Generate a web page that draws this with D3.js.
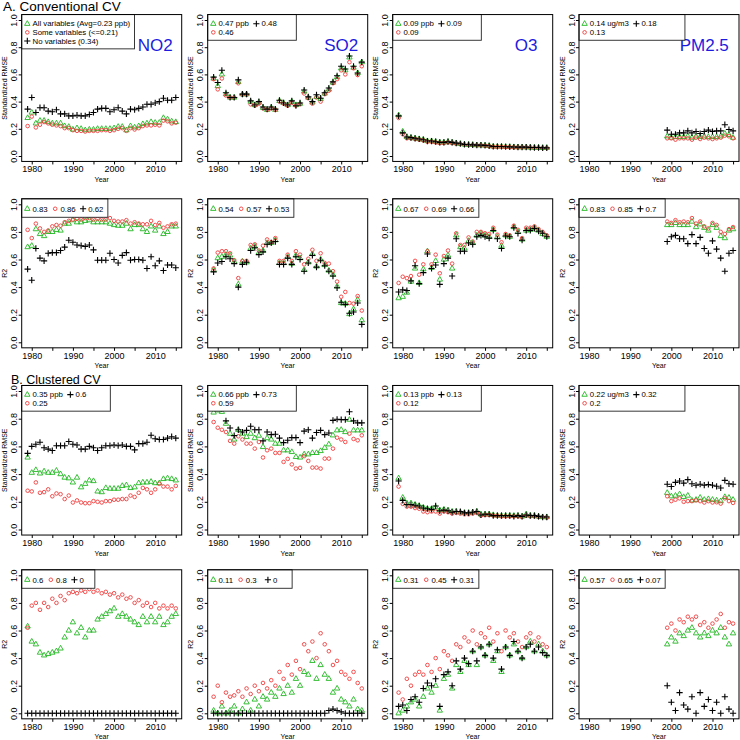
<!DOCTYPE html>
<html><head><meta charset="utf-8">
<script src="https://cdn.jsdelivr.net/npm/d3@7"></script>
<style>body{margin:0;background:#fff} text{font-family:"Liberation Sans",Arial,Helvetica,sans-serif}</style>
</head><body><svg id="c" width="740" height="740"></svg>
<script>
// ---------- categories ----------
const years = [1979,1980,1981,1982,1983,1984,1985,1986,1987,1988,1989,1990,1991,1992,1993,1994,1995,1996,1997,1998,1999,2000,2001,2002,2003,2004,2005,2006,2007,2008,2009,2010,2011,2012,2013,2014,2015];
const yearsPM = [1999,2000,2001,2002,2003,2004,2005,2006,2007,2008,2009,2010,2011,2012,2013,2014,2015];
const xTicks = [1980,1985,1990,1995,2000,2005,2010,2015];
const xTickLabels = {1980:"1980",1990:"1990",2000:"2000",2010:"2010"};
const yTicks = [0,0.2,0.4,0.6,0.8,1.0];
const pollutants = ["NO2","SO2","O3","PM2.5"];
const sectionTitles = ["A. Conventional CV","B. Clustered CV"];

// ---------- A. Conventional CV : standardized RMSE ----------
const no2ConvRmseAll  = [0.28,0.32,0.24,0.26,0.26,0.25,0.24,0.24,0.24,0.22,0.215,0.195,0.205,0.20,0.19,0.195,0.195,0.20,0.20,0.20,0.20,0.205,0.215,0.215,0.19,0.22,0.21,0.22,0.235,0.24,0.25,0.245,0.245,0.28,0.27,0.255,0.25];
const no2ConvRmseSome = [0.22,0.29,0.21,0.23,0.25,0.24,0.23,0.225,0.22,0.205,0.205,0.19,0.185,0.185,0.18,0.185,0.185,0.185,0.19,0.19,0.185,0.19,0.20,0.205,0.185,0.205,0.195,0.205,0.22,0.225,0.225,0.23,0.225,0.26,0.255,0.24,0.245];
const no2ConvRmseNone = [0.345,0.43,0.32,0.355,0.355,0.33,0.325,0.34,0.31,0.31,0.295,0.295,0.30,0.295,0.295,0.305,0.32,0.345,0.35,0.35,0.325,0.34,0.355,0.33,0.31,0.345,0.34,0.35,0.36,0.38,0.38,0.39,0.40,0.425,0.41,0.41,0.43];

const so2ConvRmseAll  = [0.57,0.515,0.60,0.455,0.43,0.43,0.545,0.455,0.455,0.40,0.375,0.395,0.355,0.34,0.355,0.34,0.405,0.39,0.375,0.40,0.375,0.385,0.475,0.43,0.395,0.435,0.42,0.46,0.49,0.54,0.58,0.645,0.63,0.725,0.65,0.61,0.69];
const so2ConvRmseSome = [0.565,0.49,0.57,0.445,0.43,0.43,0.535,0.45,0.45,0.38,0.37,0.385,0.35,0.34,0.35,0.34,0.40,0.385,0.37,0.39,0.37,0.38,0.46,0.425,0.385,0.43,0.40,0.455,0.48,0.535,0.565,0.63,0.60,0.69,0.645,0.595,0.66];
const so2ConvRmseNone = [0.58,0.54,0.63,0.465,0.43,0.43,0.56,0.455,0.455,0.405,0.375,0.40,0.36,0.345,0.36,0.345,0.41,0.39,0.375,0.405,0.37,0.39,0.485,0.435,0.40,0.45,0.425,0.465,0.50,0.545,0.59,0.66,0.64,0.735,0.66,0.61,0.69];

const o3ConvRmseAll  = [0.30,0.18,0.14,0.135,0.13,0.125,0.12,0.11,0.11,0.105,0.10,0.10,0.105,0.10,0.095,0.09,0.085,0.083,0.082,0.08,0.08,0.078,0.075,0.07,0.07,0.07,0.068,0.067,0.066,0.065,0.065,0.065,0.063,0.062,0.062,0.06,0.06];
const o3ConvRmseSome = [0.28,0.16,0.13,0.13,0.125,0.12,0.115,0.105,0.105,0.10,0.095,0.095,0.10,0.095,0.09,0.088,0.083,0.08,0.08,0.078,0.078,0.075,0.072,0.068,0.068,0.068,0.066,0.065,0.064,0.063,0.063,0.063,0.062,0.06,0.06,0.058,0.058];
const o3ConvRmseNone = [0.295,0.17,0.14,0.135,0.13,0.125,0.12,0.11,0.11,0.105,0.10,0.10,0.105,0.10,0.095,0.09,0.085,0.083,0.082,0.08,0.08,0.078,0.075,0.07,0.07,0.07,0.068,0.067,0.066,0.065,0.065,0.065,0.063,0.062,0.062,0.06,0.06];

const pmConvRmseAll  = [0.145,0.135,0.14,0.14,0.14,0.145,0.135,0.145,0.14,0.145,0.14,0.14,0.14,0.145,0.165,0.155,0.135];
const pmConvRmseSome = [0.13,0.13,0.12,0.13,0.13,0.13,0.12,0.135,0.125,0.135,0.13,0.125,0.13,0.135,0.15,0.145,0.13];
const pmConvRmseNone = [0.19,0.16,0.16,0.17,0.17,0.185,0.17,0.18,0.165,0.18,0.19,0.18,0.185,0.185,0.23,0.195,0.185];

// ---------- A. Conventional CV : R2 ----------
const no2ConvR2All  = [0.69,0.70,0.82,0.785,0.77,0.80,0.80,0.815,0.81,0.86,0.86,0.885,0.87,0.87,0.88,0.885,0.87,0.87,0.87,0.87,0.86,0.85,0.845,0.845,0.86,0.82,0.85,0.85,0.82,0.80,0.84,0.81,0.84,0.785,0.80,0.84,0.84];
const no2ConvR2Some = [0.815,0.755,0.86,0.825,0.80,0.81,0.84,0.85,0.845,0.87,0.88,0.89,0.895,0.89,0.90,0.90,0.89,0.895,0.89,0.89,0.90,0.88,0.875,0.875,0.885,0.86,0.87,0.86,0.855,0.855,0.88,0.85,0.865,0.83,0.84,0.855,0.86];
const no2ConvR2None = [0.53,0.45,0.68,0.61,0.59,0.645,0.65,0.65,0.665,0.69,0.74,0.725,0.705,0.70,0.695,0.705,0.67,0.595,0.595,0.595,0.645,0.60,0.575,0.63,0.65,0.595,0.60,0.60,0.595,0.535,0.62,0.555,0.59,0.52,0.56,0.56,0.54];

const so2ConvR2All  = [0.525,0.61,0.62,0.635,0.63,0.585,0.42,0.585,0.58,0.68,0.695,0.65,0.665,0.72,0.72,0.74,0.575,0.575,0.62,0.57,0.63,0.61,0.525,0.58,0.64,0.55,0.60,0.56,0.52,0.49,0.405,0.285,0.28,0.205,0.24,0.31,0.16];
const so2ConvR2Some = [0.535,0.65,0.66,0.66,0.645,0.595,0.465,0.59,0.59,0.705,0.71,0.665,0.70,0.745,0.725,0.755,0.59,0.59,0.635,0.59,0.66,0.635,0.565,0.605,0.67,0.59,0.645,0.575,0.57,0.515,0.44,0.33,0.365,0.285,0.28,0.335,0.23];
const so2ConvR2None = [0.51,0.575,0.585,0.62,0.605,0.57,0.40,0.565,0.58,0.665,0.685,0.635,0.655,0.71,0.72,0.73,0.565,0.565,0.61,0.565,0.62,0.60,0.515,0.575,0.63,0.545,0.595,0.555,0.515,0.48,0.395,0.29,0.275,0.21,0.22,0.285,0.13];

const o3ConvR2All  = [0.32,0.33,0.36,0.44,0.535,0.43,0.53,0.66,0.54,0.59,0.455,0.60,0.63,0.535,0.775,0.69,0.68,0.735,0.72,0.775,0.79,0.775,0.765,0.815,0.765,0.70,0.775,0.765,0.835,0.80,0.745,0.81,0.815,0.83,0.81,0.785,0.765];
const o3ConvR2Some = [0.43,0.475,0.465,0.48,0.59,0.49,0.565,0.66,0.565,0.635,0.50,0.625,0.665,0.57,0.79,0.705,0.705,0.76,0.73,0.80,0.80,0.79,0.785,0.83,0.78,0.725,0.785,0.775,0.845,0.815,0.755,0.83,0.83,0.84,0.82,0.80,0.775];
const o3ConvR2None = [0.365,0.38,0.375,0.445,0.555,0.425,0.505,0.64,0.535,0.56,0.42,0.57,0.61,0.48,0.75,0.66,0.66,0.72,0.71,0.765,0.775,0.765,0.755,0.81,0.75,0.68,0.77,0.765,0.83,0.79,0.74,0.81,0.81,0.825,0.805,0.79,0.765];

const pmConvR2All  = [0.85,0.85,0.865,0.85,0.85,0.85,0.875,0.835,0.855,0.83,0.81,0.85,0.83,0.77,0.755,0.81,0.82];
const pmConvR2Some = [0.875,0.865,0.885,0.87,0.875,0.87,0.90,0.86,0.875,0.84,0.825,0.865,0.85,0.80,0.785,0.82,0.835];
const pmConvR2None = [0.73,0.765,0.775,0.75,0.75,0.715,0.78,0.715,0.76,0.68,0.645,0.735,0.675,0.61,0.515,0.645,0.665];

// ---------- B. Clustered CV : standardized RMSE ----------
const no2ClusRmseAll  = [0.52,0.41,0.43,0.405,0.42,0.41,0.41,0.425,0.40,0.375,0.37,0.34,0.375,0.305,0.33,0.355,0.35,0.275,0.27,0.30,0.295,0.295,0.295,0.315,0.32,0.30,0.305,0.335,0.34,0.34,0.345,0.335,0.335,0.365,0.37,0.365,0.355];
const no2ClusRmseSome = [0.28,0.275,0.34,0.265,0.27,0.29,0.24,0.26,0.255,0.22,0.245,0.195,0.21,0.195,0.19,0.19,0.205,0.20,0.195,0.205,0.205,0.215,0.215,0.22,0.22,0.245,0.235,0.265,0.30,0.29,0.265,0.29,0.33,0.31,0.31,0.29,0.315];
const no2ClusRmseNone = [0.55,0.60,0.615,0.63,0.59,0.58,0.57,0.605,0.605,0.605,0.635,0.615,0.61,0.58,0.58,0.60,0.59,0.57,0.59,0.605,0.605,0.61,0.605,0.61,0.60,0.60,0.575,0.62,0.62,0.63,0.68,0.655,0.65,0.65,0.66,0.67,0.66];

const so2ClusRmseAll  = [0.845,0.86,0.85,0.764,0.692,0.65,0.72,0.692,0.668,0.692,0.66,0.678,0.596,0.66,0.65,0.62,0.62,0.572,0.572,0.56,0.524,0.52,0.543,0.543,0.553,0.553,0.567,0.59,0.615,0.68,0.716,0.72,0.704,0.793,0.716,0.716,0.716];
const so2ClusRmseSome = [0.776,0.735,0.72,0.704,0.64,0.62,0.673,0.65,0.62,0.62,0.584,0.632,0.52,0.572,0.584,0.553,0.553,0.488,0.51,0.47,0.44,0.445,0.53,0.495,0.447,0.447,0.44,0.512,0.512,0.584,0.663,0.65,0.632,0.692,0.654,0.644,0.68];
const so2ClusRmseNone = [0.88,0.90,0.87,0.784,0.733,0.678,0.72,0.704,0.716,0.745,0.72,0.72,0.64,0.704,0.685,0.688,0.66,0.627,0.644,0.663,0.663,0.627,0.71,0.72,0.66,0.70,0.716,0.685,0.697,0.788,0.796,0.793,0.793,0.85,0.784,0.77,0.77];

const o3ClusRmseAll  = [0.37,0.23,0.19,0.19,0.18,0.17,0.16,0.15,0.15,0.16,0.14,0.145,0.14,0.13,0.13,0.125,0.12,0.12,0.125,0.13,0.11,0.11,0.11,0.105,0.10,0.10,0.10,0.10,0.10,0.10,0.095,0.11,0.10,0.10,0.095,0.09,0.09];
const o3ClusRmseSome = [0.31,0.185,0.165,0.165,0.155,0.15,0.13,0.125,0.13,0.13,0.115,0.13,0.125,0.115,0.12,0.115,0.11,0.11,0.115,0.12,0.10,0.105,0.105,0.10,0.10,0.095,0.095,0.095,0.095,0.095,0.09,0.10,0.095,0.095,0.09,0.09,0.085];
const o3ClusRmseNone = [0.35,0.21,0.18,0.18,0.175,0.17,0.155,0.15,0.145,0.17,0.135,0.14,0.135,0.125,0.13,0.13,0.12,0.12,0.125,0.13,0.105,0.11,0.11,0.10,0.10,0.10,0.10,0.10,0.095,0.10,0.095,0.105,0.10,0.10,0.095,0.09,0.09];

const pmClusRmseAll  = [0.265,0.24,0.245,0.255,0.235,0.245,0.21,0.215,0.23,0.215,0.22,0.215,0.21,0.205,0.235,0.23,0.215];
const pmClusRmseSome = [0.24,0.205,0.215,0.225,0.20,0.205,0.205,0.21,0.205,0.195,0.205,0.195,0.197,0.187,0.225,0.205,0.192];
const pmClusRmseNone = [0.327,0.31,0.34,0.35,0.335,0.36,0.33,0.32,0.327,0.32,0.325,0.32,0.312,0.30,0.355,0.33,0.327];

// ---------- B. Clustered CV : R2 ----------
const no2ClusR2All  = [0.63,0.52,0.50,0.44,0.42,0.43,0.44,0.45,0.47,0.55,0.60,0.66,0.58,0.62,0.55,0.60,0.60,0.68,0.70,0.72,0.74,0.76,0.70,0.72,0.70,0.68,0.66,0.64,0.70,0.66,0.70,0.66,0.70,0.64,0.66,0.70,0.72];
const no2ClusR2Some = [0.62,0.78,0.80,0.75,0.80,0.77,0.83,0.80,0.85,0.82,0.87,0.88,0.87,0.89,0.88,0.90,0.88,0.89,0.87,0.88,0.86,0.87,0.84,0.86,0.83,0.84,0.80,0.82,0.78,0.80,0.77,0.80,0.76,0.78,0.76,0.78,0.76];
const no2ClusR2None = [0,0,0,0,0,0,0,0,0,0,0,0,0,0,0,0,0,0,0,0,0,0,0,0,0,0,0,0,0,0,0,0,0,0,0,0,0];

const so2ClusR2All  = [0.02,0.0,0.05,0.0,0.02,0.05,0.0,0.03,0.08,0.02,0.10,0.05,0.12,0.10,0.15,0.12,0.18,0.14,0.20,0.15,0.25,0.20,0.30,0.28,0.38,0.25,0.35,0.28,0.25,0.15,0.18,0.10,0.08,0.05,0.10,0.03,0.02];
const so2ClusR2Some = [0.12,0.20,0.08,0.15,0.12,0.13,0.16,0.12,0.18,0.14,0.20,0.16,0.22,0.18,0.24,0.20,0.30,0.25,0.35,0.28,0.38,0.32,0.50,0.45,0.52,0.40,0.58,0.50,0.45,0.35,0.38,0.30,0.28,0.25,0.30,0.22,0.18];
const so2ClusR2None = [0,0,0,0,0,0,0,0,0,0,0,0,0,0,0,0,0,0,0,0,0,0,0,0,0,0,0,0,0.02,0.03,0.02,0.01,0,0,0,0,0];

const o3ClusR2All  = [0.0,0.02,0.05,0.08,0.10,0.05,0.12,0.18,0.15,0.20,0.02,0.25,0.28,0.18,0.35,0.30,0.38,0.35,0.45,0.35,0.48,0.42,0.50,0.38,0.45,0.30,0.48,0.42,0.50,0.45,0.40,0.48,0.52,0.45,0.50,0.45,0.42];
const o3ClusR2Some = [0.15,0.10,0.25,0.20,0.28,0.30,0.28,0.35,0.30,0.40,0.32,0.45,0.42,0.38,0.50,0.48,0.55,0.52,0.60,0.50,0.58,0.55,0.62,0.52,0.58,0.45,0.60,0.55,0.58,0.52,0.48,0.55,0.58,0.52,0.55,0.50,0.48];
const o3ClusR2None = [0.05,0.06,0.02,0.10,0.12,0.08,0.18,0.22,0.20,0.25,0.05,0.28,0.30,0.20,0.38,0.32,0.40,0.36,0.45,0.38,0.48,0.42,0.50,0.40,0.46,0.32,0.48,0.42,0.52,0.45,0.40,0.48,0.50,0.45,0.48,0.44,0.42];

const pmClusR2All  = [0.50,0.55,0.52,0.58,0.56,0.60,0.62,0.58,0.55,0.58,0.56,0.60,0.58,0.62,0.55,0.50,0.58];
const pmClusR2Some = [0.62,0.65,0.60,0.68,0.66,0.70,0.68,0.70,0.64,0.66,0.62,0.65,0.68,0.72,0.62,0.66,0.65];
const pmClusR2None = [0.20,0.08,0.02,0.15,0.06,0.03,0.12,0.0,0.15,0.05,0.10,0.02,0.08,0.0,0.12,0.03,0.0];

// ---------- legend texts (all / some / none) ----------
const legendTexts = [
  [["All variables (Avg=0.23 ppb)","Some variables (<=0.21)","No variables (0.34)"],["0.47 ppb","0.46","0.48"],["0.09 ppb","0.09","0.09"],["0.14 ug/m3","0.13","0.18"]],
  [["0.83","0.86","0.62"],["0.54","0.57","0.53"],["0.67","0.69","0.66"],["0.83","0.85","0.7"]],
  [["0.35 ppb","0.25","0.6"],["0.66 ppb","0.59","0.73"],["0.13 ppb","0.12","0.13"],["0.22 ug/m3","0.2","0.32"]],
  [["0.6","0.8","0"],["0.11","0.3","0"],["0.31","0.45","0.31"],["0.57","0.65","0.07"]]
];

const panelData = [
  [[no2ConvRmseAll,no2ConvRmseSome,no2ConvRmseNone],[so2ConvRmseAll,so2ConvRmseSome,so2ConvRmseNone],[o3ConvRmseAll,o3ConvRmseSome,o3ConvRmseNone],[pmConvRmseAll,pmConvRmseSome,pmConvRmseNone]],
  [[no2ConvR2All,no2ConvR2Some,no2ConvR2None],[so2ConvR2All,so2ConvR2Some,so2ConvR2None],[o3ConvR2All,o3ConvR2Some,o3ConvR2None],[pmConvR2All,pmConvR2Some,pmConvR2None]],
  [[no2ClusRmseAll,no2ClusRmseSome,no2ClusRmseNone],[so2ClusRmseAll,so2ClusRmseSome,so2ClusRmseNone],[o3ClusRmseAll,o3ClusRmseSome,o3ClusRmseNone],[pmClusRmseAll,pmClusRmseSome,pmClusRmseNone]],
  [[no2ClusR2All,no2ClusR2Some,no2ClusR2None],[so2ClusR2All,so2ClusR2Some,so2ClusR2None],[o3ClusR2All,o3ClusR2Some,o3ClusR2None],[pmClusR2All,pmClusR2Some,pmClusR2None]]
];
const yLabels = ["Standardized RMSE","R2","Standardized RMSE","R2"];

// ---------- layout ----------
const svg = d3.select("#c");
const colLeft = [21.7, 207.7, 392.7, 579];
const panelW = 160;
const rowY = [[156,20],[342.3,204.3],[529.5,391],[713.3,575.3]]; // y of 0 and 1
const GREEN = "#22b822", RED = "#f23c3c", BLUE = "#1c1ce0";
const labelYear = [2010,2010,2010,2008];

const tri = "M0,-3.1L2.7,1.6L-2.7,1.6Z";
const plus = "M-3.1,0H3.1M0,-3.1V3.1";

svg.append("text").attr("x",3).attr("y",10.5).attr("font-size",13.5).text(sectionTitles[0]);
svg.append("text").attr("x",11).attr("y",383.5).attr("font-size",12.5).text(sectionTitles[1]);

for (let r=0;r<4;r++){
  for (let c=0;c<4;c++){
    const left = colLeft[c];
    const x = d3.scaleLinear().domain([1977.56,2016.44]).range([left,left+panelW]);
    const y = d3.scaleLinear().domain([0,1]).range(rowY[r]);
    const top = y(1.04), bottom = y(-0.04);
    const g = svg.append("g");
    const yrs = c===3 ? yearsPM : years;
    const [sAll,sSome,sNone] = panelData[r][c];

    // axes
    const xa = g.append("g").attr("transform",`translate(0,${bottom})`)
      .call(d3.axisBottom(x).tickValues(xTicks).tickSize(3).tickPadding(1.5).tickFormat(d=>xTickLabels[d]||""));
    xa.select(".domain").remove();
    xa.selectAll("text").attr("font-size",9).attr("font-family","Liberation Sans, Arial, sans-serif").attr("fill","#000");
    const ya = g.append("g").attr("transform",`translate(${left},0)`)
      .call(d3.axisLeft(y).tickValues(yTicks).tickSize(3).tickFormat(d3.format(".1f")));
    ya.select(".domain").remove();
    ya.selectAll("text").attr("font-size",9).attr("font-family","Liberation Sans, Arial, sans-serif").attr("fill","#000")
      .attr("x",null).attr("dy",null).attr("text-anchor","middle")
      .attr("transform","translate(-4.5,0) rotate(-90)");

    g.append("text").attr("x",(left+left+panelW)/2).attr("y",bottom+20.5).attr("text-anchor","middle")
      .attr("font-size",7).text("Year");
    g.append("text").attr("transform",`translate(${left-14.5},${(top+bottom)/2}) rotate(-90)`)
      .attr("text-anchor","middle").attr("font-size",7).text(yLabels[r]);

    // points: all (triangles), some (circles), none (plus)
    g.append("g").selectAll("path").data(yrs.map((yr,i)=>[yr,sAll[i]])).join("path")
      .attr("d",tri).attr("transform",d=>`translate(${x(d[0])},${y(d[1])})`)
      .attr("fill","none").attr("stroke",GREEN).attr("stroke-width",0.9);
    g.append("g").selectAll("circle").data(yrs.map((yr,i)=>[yr,sSome[i]])).join("circle")
      .attr("cx",d=>x(d[0])).attr("cy",d=>y(d[1])).attr("r",1.8)
      .attr("fill","none").attr("stroke",RED).attr("stroke-width",0.9);
    g.append("g").selectAll("path").data(yrs.map((yr,i)=>[yr,sNone[i]])).join("path")
      .attr("d",plus).attr("transform",d=>`translate(${x(d[0])},${y(d[1])})`)
      .attr("fill","none").attr("stroke","#000").attr("stroke-width",1.1);

    // pollutant label (row 1 only)
    if (r===0){
      g.append("text").attr("x",x(labelYear[c])).attr("y",y(0.815)).attr("dy","0.36em")
        .attr("text-anchor","middle").attr("font-size",17).attr("fill",BLUE).text(pollutants[c]);
    }

    // legend
    const texts = legendTexts[r][c];
    const lg = g.append("g");
    const box = lg.append("rect").attr("fill","#fff").attr("stroke","#222").attr("stroke-width",0.9);
    const fs = 7.8;
    const measure = s => { const t = lg.append("text").attr("font-size",fs).text(s); const w=t.node().getComputedTextLength(); t.remove(); return w; };
    const symDraw = (k,cx,cy) => {
      if (k===0) lg.append("path").attr("d",tri).attr("transform",`translate(${cx},${cy})`).attr("fill","none").attr("stroke",GREEN).attr("stroke-width",0.9);
      else if (k===1) lg.append("circle").attr("cx",cx).attr("cy",cy).attr("r",1.8).attr("fill","none").attr("stroke",RED).attr("stroke-width",0.9);
      else lg.append("path").attr("d",plus).attr("transform",`translate(${cx},${cy})`).attr("fill","none").attr("stroke","#000").attr("stroke-width",1.1);
    };
    let items, ncolL, nrowL;
    if (r===0 && c===0){ ncolL=1; nrowL=3; items=[[0,0,0],[1,0,1],[2,0,2]]; }
    else if (r%2===0){ ncolL=2; nrowL=2; items=[[0,0,0],[1,0,1],[2,1,0]]; }
    else { ncolL=3; nrowL=1; items=[[0,0,0],[1,1,0],[2,2,0]]; }
    const maxW = d3.max(texts, measure);
    const colW = maxW + 12.7;
    const lineH = 8.6;
    const bh = nrowL===1 ? 18.5 : nrowL*lineH + 8.5;
    const bw = ncolL*colW + 2.5;
    box.attr("x",left).attr("y",top).attr("width",bw).attr("height",bh);
    items.forEach(([k,ci,ri])=>{
      const cy = nrowL===1 ? top+10 : top + 9.2 + ri*lineH;
      const cx = left + 5.6 + ci*colW;
      symDraw(k,cx,cy);
      lg.append("text").attr("x",cx+5.2).attr("y",cy).attr("dy","0.35em").attr("font-size",fs).text(texts[k]);
    });

    // frame box
    g.append("rect").attr("x",left).attr("y",top).attr("width",panelW).attr("height",bottom-top)
      .attr("fill","none").attr("stroke","#000").attr("stroke-width",1);
  }
}
</script>
</body></html>
